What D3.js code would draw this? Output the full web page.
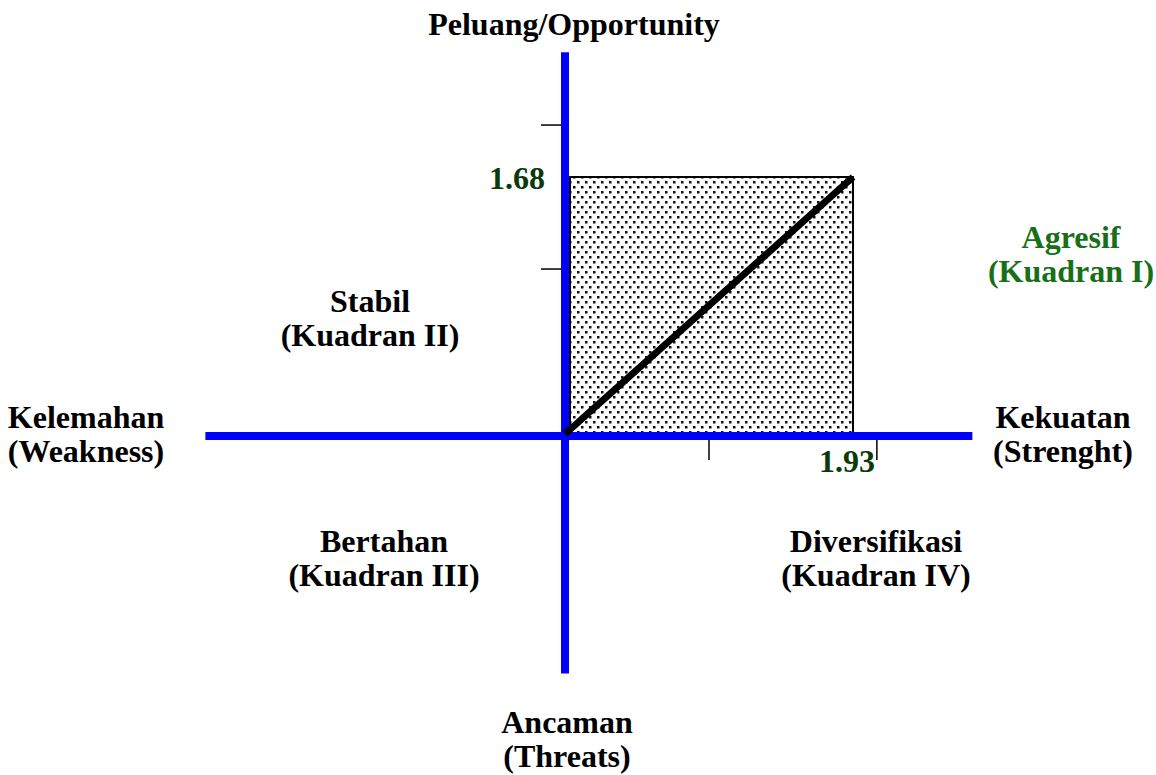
<!DOCTYPE html>
<html>
<head>
<meta charset="utf-8">
<script src="https://cdn.jsdelivr.net/npm/d3@7"></script>
<style>
  body { margin: 0; background: #fff; }
  text { font-family: "Liberation Serif", "Times New Roman", serif; font-weight: bold; }
</style>
</head>
<body>
<div id="chart"></div>
<script>
// scores from the IFAS / EFAS tables
var scoreX = 1.93,   // strength - weakness
    scoreY = 1.68;   // opportunity - threat

var xTicks = [0.965, 2.09],
    yTicks = [1.083, 2.017];

// axis extent in score units
var xExtent = [-2.41, 2.73],
    yExtent = [-1.54, 2.49];

var quadrantLabels = [
  ["Agresif", "(Kuadran I)"],
  ["Stabil", "(Kuadran II)"],
  ["Bertahan", "(Kuadran III)"],
  ["Diversifikasi", "(Kuadran IV)"]
];
var axisLabels = {
  top: ["Peluang/Opportunity"],
  bottom: ["Ancaman", "(Threats)"],
  left: ["Kelemahan", "(Weakness)"],
  right: ["Kekuatan", "(Strenght)"]
};

var width = 1156, height = 775, fs = 32;

var svg = d3.select("#chart").append("svg")
    .attr("width", width)
    .attr("height", height);

var x = d3.scaleLinear().domain([0, scoreX]).range([565, 853]);
var y = d3.scaleLinear().domain([0, scoreY]).range([436, 177]);

// dotted fill
var defs = svg.append("defs");
var pat = defs.append("pattern")
    .attr("id", "dots")
    .attr("patternUnits", "userSpaceOnUse")
    .attr("width", 8).attr("height", 10);
pat.append("rect").attr("width", 8).attr("height", 10).attr("fill", "#fff");
pat.append("rect").attr("x", 1).attr("y", 1).attr("width", 2.5).attr("height", 2.5).attr("fill", "#111");
pat.append("rect").attr("x", 5).attr("y", 6).attr("width", 2.5).attr("height", 2.5).attr("fill", "#111");

svg.append("rect")
    .attr("x", x(0) + 5)
    .attr("y", y(scoreY))
    .attr("width", x(scoreX) - x(0) - 5)
    .attr("height", y(0) - y(scoreY))
    .attr("fill", "url(#dots)")
    .attr("stroke", "#000")
    .attr("stroke-width", 2);

// tick marks
svg.selectAll(".ytick").data(yTicks).enter().append("line")
    .attr("x1", x(0) - 24).attr("x2", x(0))
    .attr("y1", function(d){ return y(d); })
    .attr("y2", function(d){ return y(d); })
    .attr("stroke", "#000").attr("stroke-width", 1.5);

svg.selectAll(".xtick").data(xTicks).enter().append("line")
    .attr("x1", function(d){ return x(d); })
    .attr("x2", function(d){ return x(d); })
    .attr("y1", y(0)).attr("y2", y(0) + 24)
    .attr("stroke", "#000").attr("stroke-width", 1.5);

// blue axes
svg.append("line")
    .attr("x1", x(xExtent[0])).attr("x2", x(xExtent[1]))
    .attr("y1", y(0)).attr("y2", y(0))
    .attr("stroke", "#0000ff").attr("stroke-width", 8);
svg.append("line")
    .attr("x1", x(0)).attr("x2", x(0))
    .attr("y1", y(yExtent[1])).attr("y2", y(yExtent[0]))
    .attr("stroke", "#0000ff").attr("stroke-width", 8);

// diagonal to the score point
svg.append("line")
    .attr("x1", x(0)).attr("y1", y(0) - 2)
    .attr("x2", x(scoreX)).attr("y2", y(scoreY))
    .attr("stroke", "#000").attr("stroke-width", 7);

// value labels
svg.append("text")
    .attr("x", x(0) - 20).attr("y", y(scoreY) + 12)
    .attr("text-anchor", "end")
    .attr("font-size", fs).attr("fill", "#0a3a0a")
    .text(d3.format(".2f")(scoreY));
svg.append("text")
    .attr("x", x(scoreX) - 6).attr("y", y(0) + 36)
    .attr("text-anchor", "middle")
    .attr("font-size", fs).attr("fill", "#0a3a0a")
    .text(d3.format(".2f")(scoreX));

function block(lines, cx, by, color) {
  var t = svg.append("text")
      .attr("text-anchor", "middle")
      .attr("font-size", fs)
      .attr("fill", color || "#000");
  lines.forEach(function(l, i){
    t.append("tspan").attr("x", cx).attr("y", by + i * 34).text(l);
  });
}

block(axisLabels.top, 574, 35);
block(axisLabels.bottom, 567, 733);
block(axisLabels.left, 86, 428);
block(axisLabels.right, 1063, 428);

block(quadrantLabels[0], 1071, 248, "#177017");
block(quadrantLabels[1], 370, 312);
block(quadrantLabels[2], 384, 552);
block(quadrantLabels[3], 876, 552);
</script>
</body>
</html>
